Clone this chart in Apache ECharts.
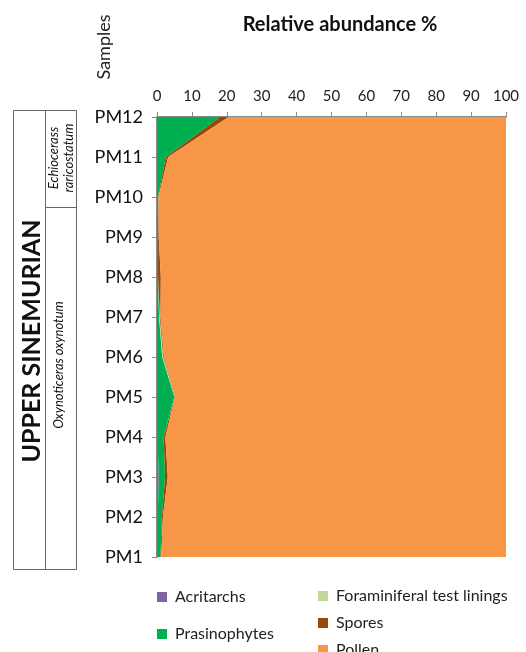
<!DOCTYPE html>
<html>
<head>
<meta charset="utf-8">
<script src="https://cdn.jsdelivr.net/npm/echarts@6/dist/echarts.min.js"></script>
<style>
  html, body { margin: 0; padding: 0; background: #fff; }
  #chart { width: 526px; height: 652px; }
</style>
</head>
<body>
<div id="chart"></div>
<script>
// Samples from base (PM1) to top (PM12)
const samples = ['PM1','PM2','PM3','PM4','PM5','PM6','PM7','PM8','PM9','PM10','PM11','PM12'];
const xTicks = [0,10,20,30,40,50,60,70,80,90,100];

// Relative abundance (%) per palynomorph group
const acritarchs    = [0.0, 0.2, 0.5, 0.1, 0.0, 0.0, 0.0, 0.0, 0.0, 0.0, 0.0, 0.0];
const prasinophytes = [1.0, 1.2, 1.8, 1.8, 5.0, 1.5, 0.6, 0.3, 0.3, 0.3, 2.5, 18.0];
const foraminifera  = [0.0, 0.0, 0.0, 0.0, 0.1, 0.3, 0.2, 0.0, 0.0, 0.0, 0.0, 0.0];
const spores        = [0.2, 0.3, 0.8, 0.5, 0.1, 0.2, 0.2, 0.8, 0.2, 0.1, 0.7, 2.5];
const pollen = samples.map((_, i) =>
  +(100 - acritarchs[i] - prasinophytes[i] - foraminifera[i] - spores[i]).toFixed(2));

const groups = [
  { name: 'Acritarchs', data: acritarchs, color: '#8064A2' },
  { name: 'Prasinophytes', data: prasinophytes, color: '#00B050' },
  { name: 'Foraminiferal test linings', data: foraminifera, color: '#C3D69B' },
  { name: 'Spores', data: spores, color: '#984807' },
  { name: 'Pollen', data: pollen, color: '#F79646' }
];

const FONT = 'Lato, "Open Sans", sans-serif';
const chart = echarts.init(document.getElementById('chart'), null, { renderer: 'canvas' });

// one legend block per entry, laid out in two columns
const legendSpots = [
  { name: 'Acritarchs', left: 152, top: 584 },
  { name: 'Prasinophytes', left: 152, top: 621 },
  { name: 'Foraminiferal test linings', left: 313, top: 583 },
  { name: 'Spores', left: 313, top: 610 },
  { name: 'Pollen', left: 313, top: 637 }
];

chart.setOption({
  animation: false,
  backgroundColor: '#fff',
  title: {
    text: 'Relative abundance %', left: 335, top: 10, textAlign: 'center',
    textStyle: { fontFamily: FONT, fontSize: 20, fontWeight: 'bold', color: '#111' }
  },
  legend: legendSpots.map(s => ({
    left: s.left, top: s.top, data: [s.name],
    icon: 'rect', itemWidth: 10, itemHeight: 10, itemGap: 10, selectedMode: false,
    textStyle: { fontFamily: FONT, fontSize: 16, color: '#222', padding: [0, 0, 0, 3] }
  })),
  grid: { left: 157, right: 20, top: 117, bottom: 95, containLabel: false },
  xAxis: {
    type: 'value', position: 'top', min: 0, max: 100, interval: 10,
    axisLine: { show: true, lineStyle: { color: '#8c8c8c', width: 2 } },
    axisTick: { show: true, length: 5, lineStyle: { color: '#8c8c8c', width: 1 } },
    axisLabel: { fontFamily: FONT, fontSize: 15, color: '#222', margin: 13,
      formatter: v => xTicks.includes(v) ? String(v) : '' },
    splitLine: { show: false }
  },
  yAxis: {
    type: 'category', data: samples, boundaryGap: false,
    axisLine: { show: true, lineStyle: { color: '#8c8c8c', width: 2 } },
    axisTick: { show: true, length: 5, alignWithLabel: true, lineStyle: { color: '#8c8c8c', width: 1 } },
    axisLabel: { fontFamily: FONT, fontSize: 18, color: '#111', margin: 14 }
  },
  series: groups.map(g => ({
    name: g.name, type: 'line', stack: 'total', data: g.data,
    showSymbol: false, symbol: 'none', smooth: false,
    lineStyle: { width: 0 },
    itemStyle: { color: g.color },
    areaStyle: { color: g.color, opacity: 1 },
    z: 2
  })),
  graphic: [
    // vertical axis caption
    { type: 'text', x: 104, y: 47, rotation: Math.PI / 2,
      style: { text: 'Samples', fill: '#222', font: '18px ' + FONT,
        textAlign: 'center', textVerticalAlign: 'middle' } },
    // stratigraphic column frame
    { type: 'rect', shape: { x: 13.5, y: 110.5, width: 63, height: 459 },
      style: { fill: 'none', stroke: '#666', lineWidth: 1 } },
    { type: 'line', shape: { x1: 45.5, y1: 110.5, x2: 45.5, y2: 569.5 },
      style: { stroke: '#666', lineWidth: 1 } },
    { type: 'line', shape: { x1: 45.5, y1: 207.5, x2: 76.5, y2: 207.5 },
      style: { stroke: '#666', lineWidth: 1 } },
    { type: 'text', x: 32, y: 341, rotation: Math.PI / 2,
      style: { text: 'UPPER SINEMURIAN', fill: '#111', font: 'bold 25px ' + FONT,
        textAlign: 'center', textVerticalAlign: 'middle' } },
    { type: 'text', x: 61, y: 158, rotation: Math.PI / 2,
      style: { text: 'Echiocerass\nraricostatum', fill: '#111', font: 'italic 13px ' + FONT,
        textAlign: 'center', textVerticalAlign: 'middle', lineHeight: 15 } },
    { type: 'text', x: 59, y: 365, rotation: Math.PI / 2,
      style: { text: 'Oxynoticeras oxynotum', fill: '#111', font: 'italic 13px ' + FONT,
        textAlign: 'center', textVerticalAlign: 'middle' } }
  ]
});
</script>
</body>
</html>
